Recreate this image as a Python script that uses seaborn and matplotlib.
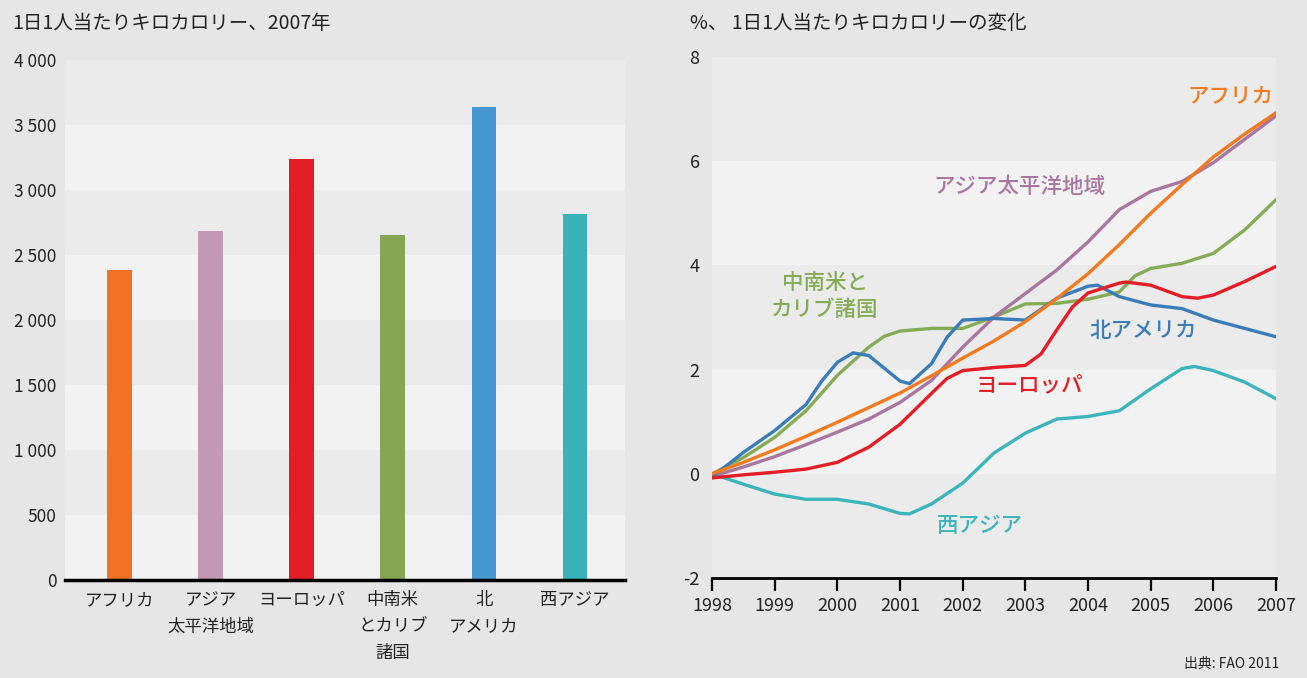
import pandas as pd
import matplotlib
matplotlib.use("Agg")
import matplotlib.pyplot as plt
import seaborn as sns
from matplotlib.ticker import FuncFormatter

# 左: 1日1人当たりキロカロリー、2007年
bar_regions = ["アフリカ", "アジア\n太平洋地域", "ヨーロッパ", "中南米\nとカリブ\n諸国", "北\nアメリカ", "西アジア"]
bar_kcal = [2385, 2685, 3240, 2655, 3640, 2815]
bar_colors = ["#f37124", "#c498b2", "#e11e25", "#85a654", "#4797d3", "#39b1b8"]

# 右: 1日1人当たりキロカロリーの変化 (%), 半年ごとに読み取り
years = [1998, 1998.5, 1999, 1999.5, 2000, 2000.5, 2001, 2001.5, 2002, 2002.5,
         2003, 2003.5, 2004, 2004.5, 2005, 2005.5, 2006, 2006.5, 2007]
africa = [0, 0.22, 0.46, 0.72, 0.99, 1.27, 1.55, 1.88, 2.22, 2.55,
          2.92, 3.36, 3.84, 4.40, 5.00, 5.55, 6.08, 6.52, 6.93]
asia_pacific = [-0.05, 0.13, 0.33, 0.56, 0.80, 1.05, 1.37, 1.79, 2.43, 3.01,
                3.46, 3.91, 4.45, 5.07, 5.42, 5.61, 5.97, 6.42, 6.87]
latin_america = [0, 0.31, 0.70, 1.21, 1.89, 2.43, 2.74, 2.79, 2.79, 3.01,
                 3.26, 3.27, 3.35, 3.49, 3.94, 4.04, 4.23, 4.68, 5.26]
north_america = [-0.06, 0.41, 0.83, 1.33, 2.14, 2.27, 1.78, 2.11, 2.95, 2.98,
                 2.95, 3.37, 3.60, 3.40, 3.24, 3.17, 2.95, 2.79, 2.63]
europe = [-0.08, -0.02, 0.03, 0.09, 0.22, 0.51, 0.95, 1.54, 1.98, 2.04,
          2.08, 2.76, 3.47, 3.66, 3.62, 3.40, 3.43, 3.69, 3.98]
west_asia = [0, -0.20, -0.39, -0.49, -0.49, -0.58, -0.76, -0.58, -0.18, 0.40,
             0.78, 1.05, 1.10, 1.21, 1.63, 2.02, 1.98, 1.76, 1.44]

# 山・谷の位置 (追加の読み取り点)
north_america_extra_x = [1999.75, 2000.25, 2001.15, 2001.75, 2004.15]
north_america_extra_y = [1.78, 2.32, 1.73, 2.62, 3.62]
europe_extra_x = [2001.75, 2003.25, 2003.75, 2004.6, 2005.75]
europe_extra_y = [1.83, 2.30, 3.20, 3.68, 3.37]
west_asia_extra_x = [2001.15, 2005.7]
west_asia_extra_y = [-0.77, 2.06]
latin_america_extra_x = [2000.75, 2004.75]
latin_america_extra_y = [2.64, 3.80]

line_series = {
    "西アジア": (west_asia, west_asia_extra_x, west_asia_extra_y, "#3cb4bb"),
    "中南米とカリブ諸国": (latin_america, latin_america_extra_x, latin_america_extra_y, "#86ab57"),
    "アジア太平洋地域": (asia_pacific, [], [], "#a8769f"),
    "北アメリカ": (north_america, north_america_extra_x, north_america_extra_y, "#3a7cb8"),
    "ヨーロッパ": (europe, europe_extra_x, europe_extra_y, "#e41e26"),
    "アフリカ": (africa, [], [], "#f47a20"),
}
# ラベル位置 (x, y) と表示テキスト
line_labels = {
    "アフリカ": (2006.27, 7.23, "アフリカ"),
    "アジア太平洋地域": (2002.91, 5.51, "アジア太平洋地域"),
    "中南米とカリブ諸国": (1999.8, 3.39, "中南米と\nカリブ諸国"),
    "北アメリカ": (2004.88, 2.74, "北アメリカ"),
    "ヨーロッパ": (2003.07, 1.70, "ヨーロッパ"),
    "西アジア": (2002.28, -1.0, "西アジア"),
}

sns.set_theme(style="white")
plt.rcParams["font.family"] = ["Noto Sans CJK JP", "DejaVu Sans"]
plt.rcParams["axes.unicode_minus"] = False

BG = "#e6e6e6"
LIGHT = "#f2f2f2"
DARK = "#ebebeb"
TXT = "#222222"

fig = plt.figure(figsize=(13.07, 6.78), dpi=100, facecolor=BG)
ax1 = fig.add_axes([0.0497, 0.1445, 0.4285, 0.767])
ax2 = fig.add_axes([0.5448, 0.1475, 0.4315, 0.7685])

# ---- 棒グラフ
ax1.set_facecolor(LIGHT)
for lo in range(500, 4000, 1000):
    ax1.axhspan(lo, lo + 500, color=DARK, lw=0, zorder=0)
df_bar = pd.DataFrame({"region": bar_regions, "kcal": bar_kcal})
sns.barplot(data=df_bar, x="region", y="kcal", hue="region", palette=bar_colors,
            dodge=False, width=0.27, legend=False, saturation=1, linewidth=0,
            ax=ax1, zorder=2)
ax1.set_xlim(-0.6, 5.55)
ax1.set_ylim(0, 4000)
ax1.set_yticks(range(0, 4001, 500))
ax1.yaxis.set_major_formatter(FuncFormatter(lambda v, p: f"{int(v):,}".replace(",", " ")))
ax1.set_xlabel("")
ax1.set_ylabel("")
for s in ["top", "right", "left"]:
    ax1.spines[s].set_visible(False)
ax1.spines["bottom"].set_color("black")
ax1.spines["bottom"].set_linewidth(2.5)
ax1.spines["bottom"].set_zorder(3)
ax1.tick_params(axis="y", length=0, labelsize=12.5, pad=6, labelcolor=TXT)
ax1.tick_params(axis="x", length=0, labelsize=12.5, pad=8, labelcolor=TXT)
for lab in ax1.get_xticklabels():
    lab.set_linespacing(1.6)
    lab.set_verticalalignment("top")
fig.text(0.009, 0.965, "1日1人当たりキロカロリー、2007年", fontsize=14, color=TXT,
         va="center", ha="left")

# ---- 折れ線グラフ
ax2.set_facecolor(LIGHT)
for lo in [6, 2, -2]:
    ax2.axhspan(lo, lo + 2, color=DARK, lw=0, zorder=0)
rows = []
for name, (vals, ex_x, ex_y, col) in line_series.items():
    for x, v in zip(list(years) + list(ex_x), list(vals) + list(ex_y)):
        rows.append({"year": x, "change": v, "region": name})
df_line = pd.DataFrame(rows).sort_values(["region", "year"])
palette = {k: v[3] for k, v in line_series.items()}
sns.lineplot(data=df_line, x="year", y="change", hue="region", hue_order=list(line_series),
             palette=palette, linewidth=2.4, errorbar=None, legend=False, ax=ax2,
             solid_capstyle="round", solid_joinstyle="round")
ax2.set_xlim(1998, 2007)
ax2.set_ylim(-2, 8)
ax2.set_xticks(range(1998, 2008))
ax2.set_yticks(range(-2, 9, 2))
ax2.set_xlabel("")
ax2.set_ylabel("")
for s in ["top", "right", "left"]:
    ax2.spines[s].set_visible(False)
ax2.spines["bottom"].set_color("black")
ax2.spines["bottom"].set_linewidth(2)
ax2.tick_params(axis="x", direction="out", length=9, width=1.6, color="black",
                labelsize=13, pad=5, bottom=True, labelcolor=TXT)
ax2.tick_params(axis="y", length=0, labelsize=13, pad=9, labelcolor=TXT)

for name, (x, y, txt) in line_labels.items():
    ax2.text(x, y, txt, color=palette[name], fontsize=15.5, fontweight="medium",
             ha="center", va="center", linespacing=1.2)

fig.text(0.528, 0.965, "%、 1日1人当たりキロカロリーの変化", fontsize=14, color=TXT,
         va="center", ha="left")
fig.text(0.979, 0.01, "出典: FAO 2011", fontsize=10, color=TXT, ha="right", va="bottom")

fig.savefig("out.png", dpi=100, facecolor=BG)
